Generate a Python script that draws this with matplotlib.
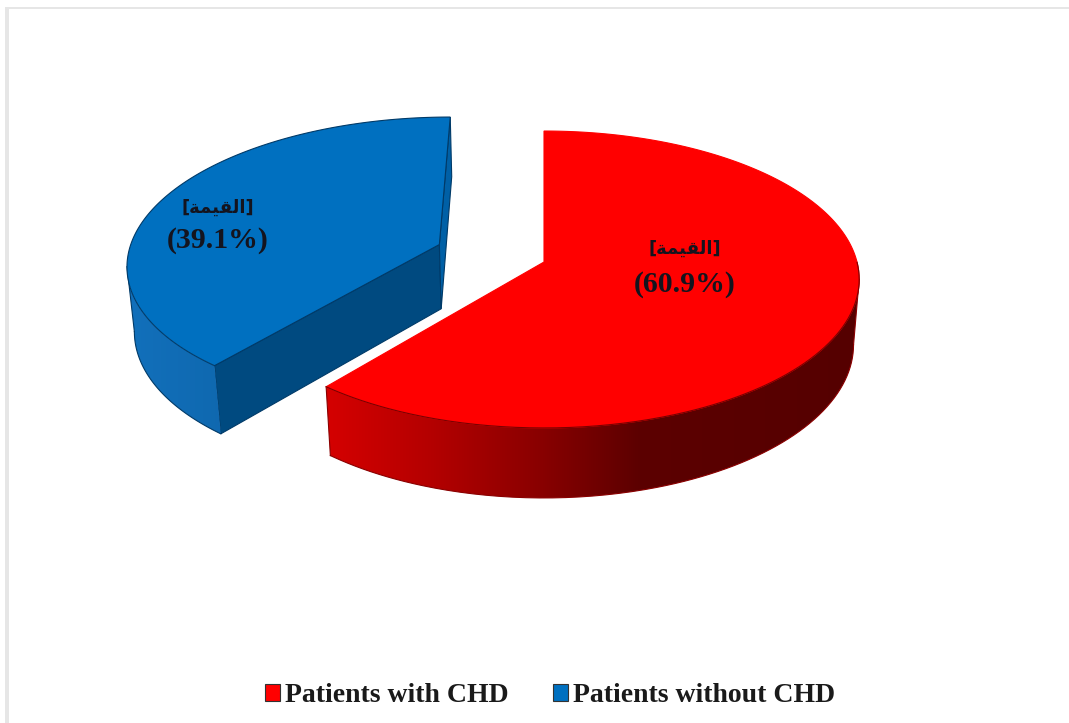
import numpy as np
import matplotlib
matplotlib.use('Agg')
import matplotlib.pyplot as plt
from matplotlib.colors import LinearSegmentedColormap
from matplotlib.patches import Patch, Polygon, Rectangle

categories = ['Patients with CHD', 'Patients without CHD']
values = [60.9, 39.1]
explode = [0.0, 0.36]
top_colors = ['#FF0000', '#0070C0']
edge_colors = ['#8a0000', '#003a68']

# the word is stored in glyph order because matplotlib does not shape arabic
value_word = '\ufe94\ufee4\ufef4\ufed8\ufedf\ufe8d'

# projection of the tilted disc onto the canvas (pixels)
CX, CY = 544, 262
RX, RY = 313, 146.4
TILT = 0.1178
DEPTH = 66
SHRINK = 0.018


def project(x, y, lower=False):
    w = 1 + TILT * y
    if lower:
        w = w + SHRINK
        return CX + RX * x / w, CY - RY * y / w + DEPTH / w
    return CX + RX * x / w, CY - RY * y / w


def disc_point(theta, ex, ey):
    return ex + np.sin(theta), ey + np.cos(theta)


def flat_face(angle, ex, ey, color, edge, zorder):
    x, y = disc_point(angle, ex, ey)
    a = project(ex, ey)
    b = project(x, y)
    c = project(x, y, lower=True)
    d = project(ex, ey, lower=True)
    ax.add_patch(Polygon([a, b, c, d], closed=True, facecolor=color, edgecolor=edge, linewidth=0.8, zorder=zorder))


fig = plt.figure(figsize=(10.69, 7.23), dpi=100)
ax = fig.add_axes([0, 0, 1, 1])
ax.axis('off')

# faint frame at the top and on the left
ax.add_patch(Rectangle((5, 7), 1064, 1.5, facecolor='#e6e6e6', edgecolor='none', zorder=0))
ax.add_patch(Rectangle((5, 7), 3.5, 716, facecolor='#e6e6e6', edgecolor='none', zorder=0))

red_shade = LinearSegmentedColormap.from_list('red_shade', [(0, '#d60000'), (0.2, '#b40000'), (0.4, '#8a0000'), (0.59, '#5c0000'), (1, '#550000')])
blue_shade = LinearSegmentedColormap.from_list('blue_shade', ['#1270bb', '#0f68af'])
shades = [red_shade, blue_shade]
shade_span = [(323, 860), (128, 228)]

fractions = np.array(values) / sum(values)
start = 0.0
for i in range(len(values)):
    end = start + fractions[i] * 2 * np.pi
    mid = (start + end) / 2
    ex = explode[i] * np.sin(mid)
    ey = explode[i] * np.cos(mid)
    theta = np.linspace(start, end, 400)
    order = 2 + i

    if i == 1:
        # the cut faces of the pulled out slice
        flat_face(start, ex, ey, '#004A80', edge_colors[i], order)
        flat_face(end, ex, ey, '#0060A6', edge_colors[i], order)

    x, y = disc_point(theta, ex, ey)
    tx, ty = project(x, y)
    bx, by = project(x, y, lower=True)

    # rim: from silhouette to silhouette, filled with a sideways gradient
    right = np.argmax(tx)
    left = np.argmin(tx)
    if right > left:
        right = 0
    rim_x = np.concatenate([tx[right:left + 1], bx[right:left + 1][::-1]])
    rim_y = np.concatenate([ty[right:left + 1], by[right:left + 1][::-1]])
    rim_poly = Polygon(np.column_stack([rim_x, rim_y]), closed=True, facecolor='none', edgecolor='none', zorder=order)
    ax.add_patch(rim_poly)
    x0, x1 = shade_span[i]
    gradient = ax.imshow(np.linspace(0, 1, 256).reshape(1, -1), cmap=shades[i], vmin=0, vmax=1,
                         extent=(x0, x1, 520, 200), aspect='auto', zorder=order)
    gradient.set_clip_path(rim_poly)
    ax.plot(bx[right:left + 1], by[right:left + 1], color=edge_colors[i], lw=0.8, zorder=order)
    if i == 0:
        ax.plot([tx[right], bx[right]], [ty[right], by[right]], color=edge_colors[i], lw=0.8, zorder=order)
        ax.plot([tx[left], bx[left]], [ty[left], by[left]], color=edge_colors[i], lw=0.8, zorder=order)
    else:
        ax.plot([tx[left], bx[left]], [ty[left], by[left]], color=edge_colors[i], lw=0.8, zorder=order)

    ax0, ay0 = project(ex, ey)
    outline = [(ax0, ay0)] + list(zip(tx, ty))
    ax.add_patch(Polygon(outline, closed=True, facecolor=top_colors[i], edgecolor=edge_colors[i] if i == 1 else top_colors[i], linewidth=0.8, zorder=order + 0.1))
    if i == 0:
        # only the front of the red rim gets a dark line
        front = theta > np.pi / 2
        ax.plot(tx[front], ty[front], color='#7a0000', lw=0.8, zorder=order + 0.2)

    start = end

ax.set_xlim(0, 1069)
ax.set_ylim(723, 0)

# value labels
label_pos = [(685, 249, 284), (218, 208, 240)]
for i in range(len(values)):
    lx, y1, y2 = label_pos[i]
    ax.text(lx, y1, '[' + value_word + ']', family='DejaVu Sans', fontweight='bold', fontsize=13, color='#14141e', ha='center', va='center', zorder=10)
    ax.text(lx, y2, '(%.1f%%)' % values[i], family='Liberation Serif', fontweight='bold', fontsize=21.5, color='#14141e', ha='center', va='center', zorder=10)

handles = [Patch(facecolor=top_colors[i], edgecolor='#333333', linewidth=0.8, label=categories[i]) for i in range(len(values))]
ax.legend(handles=handles, ncol=2, loc='center', bbox_to_anchor=(550 / 1069, 1 - 696 / 723),
          frameon=False, handlelength=0.54, handleheight=0.54, handletextpad=0.2, columnspacing=1.58,
          prop={'family': 'Liberation Serif', 'weight': 'bold', 'size': 20}, labelcolor='#1a1a1a')

fig.savefig('out.png', dpi=100)
